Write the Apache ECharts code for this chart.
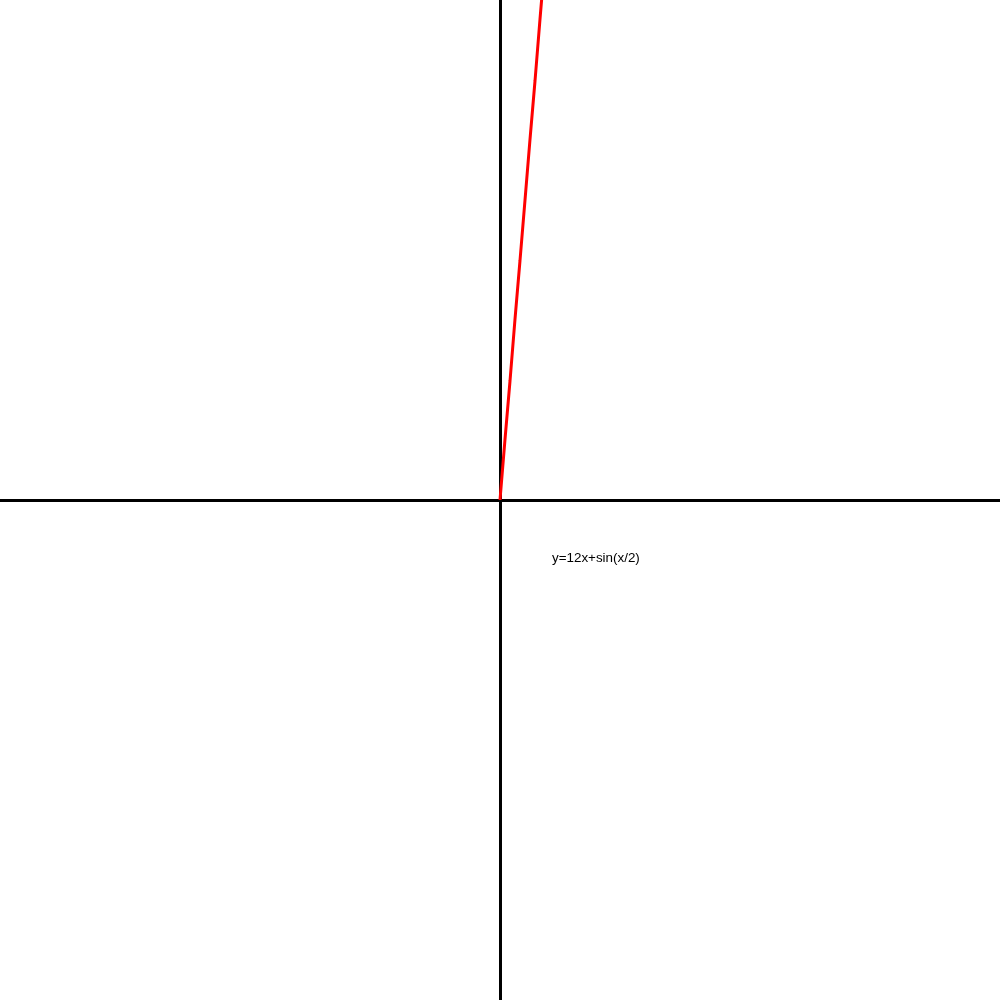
<!DOCTYPE html>
<html>
<head>
<meta charset="utf-8">
<script src="https://cdn.jsdelivr.net/npm/echarts@6/dist/echarts.min.js"></script>
<style>html,body{margin:0;padding:0;background:#fff}#c{width:1000px;height:1000px}</style>
</head>
<body>
<div id="c"></div>
<script>
var xValues = [0, 5, 10, 15, 20, 25, 30, 35, 40, 42];
var yValues = [0, 60.6, 119.0, 180.9, 239.5, 299.9, 360.7, 419.0, 480.9, 504.8];
var curveLabel = 'y=12x+sin(x/2)';
var axisRange = [-500, 500];

var chart = echarts.init(document.getElementById('c'), null, {renderer: 'canvas'});
var pts = xValues.map(function (x, i) { return [x, yValues[i]]; });
var axisCommon = {
  type: 'value',
  min: axisRange[0], max: axisRange[1],
  axisLine: {show: true, onZero: true, lineStyle: {color: '#000', width: 3}},
  axisTick: {show: false},
  axisLabel: {show: false},
  splitLine: {show: false}
};
chart.setOption({
  animation: false,
  backgroundColor: '#fff',
  grid: {left: 0, right: 0, top: 0, bottom: 0},
  xAxis: axisCommon,
  yAxis: axisCommon,
  series: [{
    type: 'line',
    data: pts,
    showSymbol: false,
    clip: true,
    lineStyle: {color: '#ff0000', width: 3}
  }],
  graphic: [{
    type: 'text',
    left: 552,
    top: 552,
    style: {text: curveLabel, fill: '#000', font: '13.4px "Liberation Sans", Arial, sans-serif'}
  }]
});
</script>
</body>
</html>
